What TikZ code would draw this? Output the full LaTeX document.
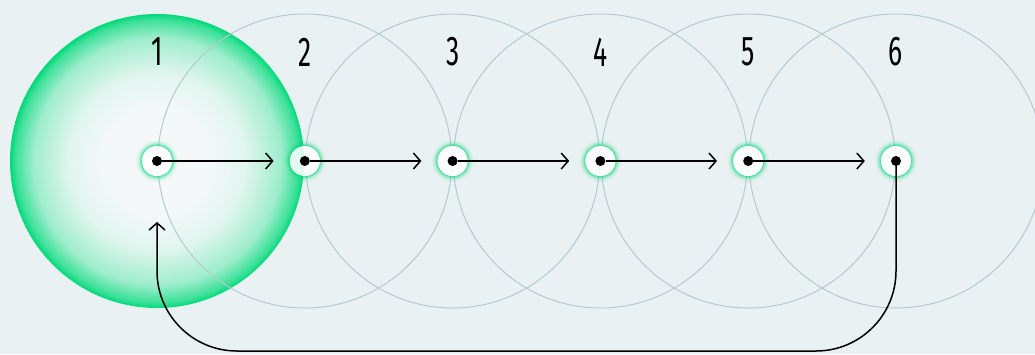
\documentclass[tikz,border=0pt]{standalone}
\usepackage{graphicx}
\usepackage{fontspec}
\setmainfont{Fira Sans}
\usetikzlibrary{arrows.meta}

\definecolor{bg}{HTML}{EAF1F3}
\definecolor{ring}{HTML}{B3CAD2}
\definecolor{mint}{HTML}{00D97A}
\definecolor{discin}{HTML}{F4F8F9}
\colorlet{mintA}{mint!8!discin}
\colorlet{mintB}{mint!35!discin}
\colorlet{mintC}{mint!75!discin}

% soft white-to-green disc behind the first stop
\pgfdeclareradialshading{greendisc}{\pgfpoint{0bp}{0bp}}{%
  color(0bp)=(discin); color(9bp)=(discin); color(15bp)=(mintA);
  color(21bp)=(mintB); color(24bp)=(mintC); color(25bp)=(mint); color(50bp)=(mint)}

\tikzset{
  stopdot/.style={circle, fill=black, inner sep=0pt, minimum size=10pt},
  ringline/.style={draw=ring, line width=1pt},
  flow/.style={line width=1.5pt, -{Straight Barb[length=7pt, width=16pt, line width=1.5pt]}},
  numlabel/.style={inner sep=0pt, font=\fontsize{40}{40}\selectfont}
}

\begin{document}
\begin{tikzpicture}[x=1pt, y=-1pt]
  \fill[bg] (0,0) rectangle (1035,354);
  \useasboundingbox (0,0) rectangle (1035,354);
  \clip (0,0) rectangle (1035,354);

  % large disc and range circles
  \shade[shading=greendisc] (157,161) circle[radius=147];
  \foreach \i in {2,...,6}
    \draw[ringline] ({157+147.8*(\i-1)},161) circle[radius=147];

  % glowing halos: soft rings round a pale disc
  \foreach \i in {1,...,6} {
    \foreach \r/\o in {21/0.05, 19.5/0.09, 18.2/0.14, 17.2/0.22, 16.2/0.35}
      \fill[mint, opacity=\o, even odd rule] ({157+147.8*(\i-1)},161) circle[radius=\r] circle[radius=15];
    \fill[white, opacity=0.85] ({157+147.8*(\i-1)},161) circle[radius=15];
  }

  % stops and their numbers
  \foreach \i in {1,...,6} {
    \node[stopdot] (n\i) at ({157+147.8*(\i-1)},161) {};
    \node[numlabel] (l\i) at ({157+147.8*(\i-1)},52) {\scalebox{0.66}[1.04]{\i}};
  }

  % forward links
  \foreach \i/\j in {1/2, 2/3, 3/4, 4/5, 5/6}
    \draw[flow, shorten >=26pt] (n\i) -- (n\j);

  % return link
  \coordinate (back) at (157,222);
  \draw[flow, rounded corners=80pt] (n6.center) -- (n6.center |- 0,351) -- (back |- 0,351) -- (back);
\end{tikzpicture}
\end{document}
